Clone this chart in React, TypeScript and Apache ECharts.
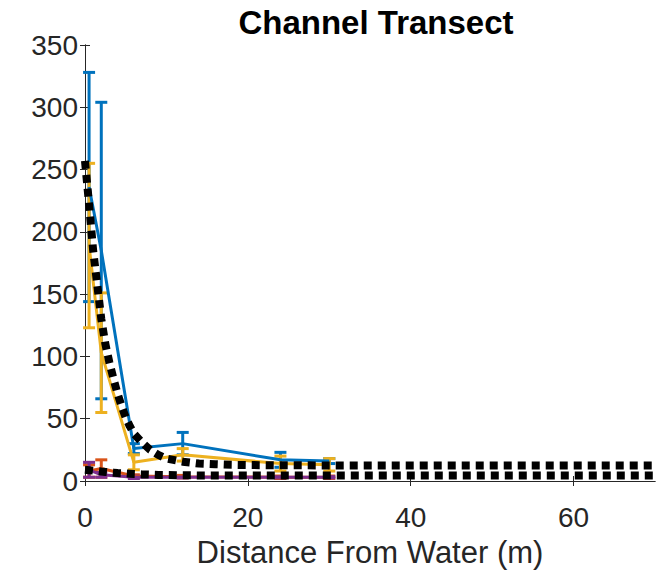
import React, { useEffect, useRef } from "react";
import * as echarts from "echarts";

const sampleX = [0.5, 2, 6, 12, 24, 30];
const blueMean = [236, 185, 26, 30, 17, 16];
const blueErr = [92, 119, 4, 9, 6, 2];
const yellowMean = [189, 103, 15, 21, 14, 13];
const yellowErr = [66, 48, 6, 5, 6, 5];
const redMean = [8, 10, 4, 3.5, 3, 3];
const redErr = [5, 7, 1, 1, 1, 1];
const purpleMean = [9, 5, 3, 3, 3, 3];
const purpleErr = [6, 2, 1, 0.5, 0.5, 0.5];

const fitX = [0, 0.5, 1, 1.5, 2, 2.5, 3, 3.5, 4, 4.5, 5, 5.5, 6, 7, 8, 9, 10, 12, 14, 16, 18, 20, 25, 30, 40, 50, 60, 70];
const fitUpper = [257, 222, 185, 158, 130, 110, 95, 82, 70, 60, 51, 44, 38, 31, 25, 21, 18, 15.5, 14, 13.5, 13, 12.8, 12.6, 12.5, 12.5, 12.5, 12.5, 12.5];
const fitLower = [9, 8.7, 8.3, 8, 7.6, 7.3, 7, 6.7, 6.4, 6.2, 6, 5.8, 5.6, 5.3, 5.1, 4.9, 4.8, 4.6, 4.5, 4.5, 4.5, 4.5, 4.5, 4.5, 4.5, 4.5, 4.5, 4.5];

const xTicks = [0, 20, 40, 60];

const FONT = "'Liberation Sans', Arial, Helvetica, sans-serif";
const AXIS_COLOR = "#262626";

function pairs(xs: number[], ys: number[]) {
  return xs.map((x, i) => [x, ys[i]]);
}

function lineSeries(name: string, ys: number[], color: string) {
  return {
    name,
    type: "line",
    data: pairs(sampleX, ys),
    showSymbol: false,
    symbol: "none",
    lineStyle: { color, width: 3 },
    z: 3,
  };
}

function errSeries(name: string, means: number[], errs: number[], color: string) {
  return {
    name: name + " error",
    type: "custom",
    data: sampleX.map((x, i) => [x, means[i] - errs[i], means[i] + errs[i]]),
    renderItem: (_params: any, api: any) => {
      const x = api.value(0);
      const lo = api.coord([x, api.value(1)]);
      const hi = api.coord([x, api.value(2)]);
      const hw = 6;
      const style = { stroke: color, lineWidth: 3 };
      return {
        type: "group",
        children: [
          { type: "line", shape: { x1: lo[0], y1: lo[1], x2: hi[0], y2: hi[1] }, style },
          { type: "line", shape: { x1: lo[0] - hw, y1: lo[1], x2: lo[0] + hw, y2: lo[1] }, style },
          { type: "line", shape: { x1: hi[0] - hw, y1: hi[1], x2: hi[0] + hw, y2: hi[1] }, style },
        ],
      };
    },
    z: 3,
  };
}

function fitSeries(name: string, ys: number[]) {
  return {
    name,
    type: "line",
    data: pairs(fitX, ys),
    showSymbol: false,
    symbol: "none",
    smooth: false,
    lineStyle: { color: "#000000", width: 8, type: [8, 6] },
    z: 5,
  };
}

export default function App() {
  const ref = useRef<HTMLDivElement>(null);
  useEffect(() => {
    document.body.style.margin = "0";
    if (!ref.current) return;
    const chart = echarts.init(ref.current, null, { renderer: "svg" });
    const common = {
      type: "value",
      splitLine: { show: false },
      axisLine: { show: true, lineStyle: { color: AXIS_COLOR, width: 1 } },
      axisTick: { show: true, inside: true, length: 5, lineStyle: { color: AXIS_COLOR } },
    };
    chart.setOption({
      animation: false,
      backgroundColor: "#ffffff",
      title: {
        text: "Channel Transect",
        left: 371,
        top: 1,
        textAlign: "center",
        textStyle: { fontFamily: FONT, fontWeight: "bold", fontSize: 33, color: "#000000" },
      },
      grid: { left: 85, right: 11, top: 45, bottom: 94, containLabel: false },
      xAxis: [
        {
          ...common,
          position: "bottom",
          min: 0,
          max: 70,
          interval: 20,
          axisLabel: {
            show: true,
            customValues: xTicks,
            margin: 22,
            fontFamily: FONT,
            fontSize: 28,
            color: AXIS_COLOR,
          },
          axisTick: { ...common.axisTick, customValues: xTicks },
          name: "Distance From Water (m)",
          nameLocation: "middle",
          nameGap: 56,
          nameTextStyle: { fontFamily: FONT, fontSize: 31, color: AXIS_COLOR },
        },
        {
          ...common,
          position: "top",
          min: 0,
          max: 70,
          interval: 20,
          axisLabel: { show: false },
          axisTick: { ...common.axisTick, customValues: xTicks },
        },
      ],
      yAxis: [
        {
          ...common,
          position: "left",
          min: 0,
          max: 350,
          interval: 50,
          axisLabel: {
            show: true,
            margin: 7,
            fontFamily: FONT,
            fontSize: 28,
            color: AXIS_COLOR,
          },
        },
        {
          ...common,
          position: "right",
          min: 0,
          max: 350,
          interval: 50,
          axisLabel: { show: false },
        },
      ],
      series: [
        lineSeries("Blue", blueMean, "#0072BD"),
        errSeries("Blue", blueMean, blueErr, "#0072BD"),
        lineSeries("Orange", redMean, "#D95319"),
        errSeries("Orange", redMean, redErr, "#D95319"),
        lineSeries("Yellow", yellowMean, "#EDB120"),
        errSeries("Yellow", yellowMean, yellowErr, "#EDB120"),
        lineSeries("Purple", purpleMean, "#7E2F8E"),
        errSeries("Purple", purpleMean, purpleErr, "#7E2F8E"),
        fitSeries("Fit upper", fitUpper),
        fitSeries("Fit lower", fitLower),
      ],
    });
    return () => chart.dispose();
  }, []);
  return <div ref={ref} style={{ width: 666, height: 575 }} />;
}
